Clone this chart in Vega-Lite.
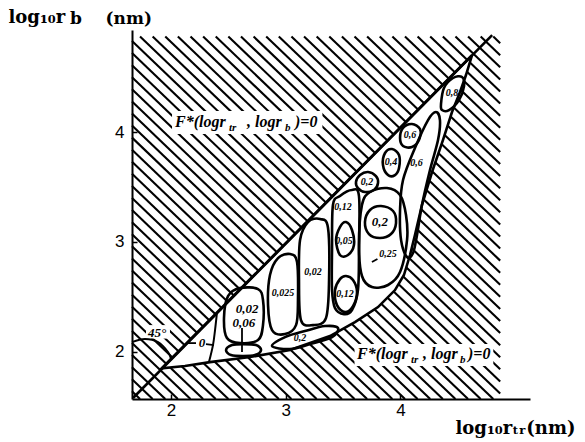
{
"$schema": "https://vega.github.io/schema/vega-lite/v6.json",
"width": 398, "height": 369,
"autosize": {"type": "none"},
"padding": {"left": 132, "top": 30, "right": 55, "bottom": 43},
"background": "white",
"config": {"view": {"stroke": null}, "axis": {"grid": false}},
"title": {"text": "b\u00a0\u00a0\u00a0\u00a0(nm)", "anchor": "start", "frame": "group", "dx": -62, "dy": 22, "offset": 2, "fontSize": 17, "font": "DejaVu Serif", "fontWeight": "bold", "color": "black"},
"datasets": {
"hatch": [
{"x":1.66,"y":1.64,"x2":1.73,"y2":1.57},{"x":1.66,"y":1.75,"x2":1.84,"y2":1.57},{"x":1.66,"y":1.86,"x2":1.95,"y2":1.57},{"x":1.66,"y":1.97,"x2":2.06,"y2":1.57},{"x":1.66,"y":2.08,"x2":2.17,"y2":1.57},{"x":1.66,"y":2.19,"x2":2.28,"y2":1.57},{"x":1.66,"y":2.30,"x2":2.39,"y2":1.57},{"x":1.66,"y":2.41,"x2":2.50,"y2":1.57},{"x":1.66,"y":2.52,"x2":2.61,"y2":1.57},{"x":1.66,"y":2.63,"x2":2.72,"y2":1.57},{"x":1.66,"y":2.74,"x2":2.83,"y2":1.57},{"x":1.66,"y":2.85,"x2":2.94,"y2":1.57},{"x":1.66,"y":2.96,"x2":3.05,"y2":1.57},{"x":1.66,"y":3.07,"x2":3.16,"y2":1.57},{"x":1.66,"y":3.18,"x2":3.27,"y2":1.57},{"x":1.66,"y":3.29,"x2":3.38,"y2":1.57},{"x":1.66,"y":3.40,"x2":3.49,"y2":1.57},{"x":1.66,"y":3.51,"x2":3.60,"y2":1.57},{"x":1.66,"y":3.62,"x2":3.71,"y2":1.57},{"x":1.66,"y":3.73,"x2":3.82,"y2":1.57},{"x":1.66,"y":3.84,"x2":3.93,"y2":1.57},{"x":1.66,"y":3.95,"x2":4.04,"y2":1.57},{"x":1.66,"y":4.06,"x2":4.15,"y2":1.57},{"x":1.66,"y":4.17,"x2":4.26,"y2":1.57},{"x":1.66,"y":4.28,"x2":4.37,"y2":1.57},{"x":1.66,"y":4.39,"x2":4.48,"y2":1.57},{"x":1.66,"y":4.50,"x2":4.59,"y2":1.57},{"x":1.66,"y":4.61,"x2":4.70,"y2":1.57},{"x":1.66,"y":4.72,"x2":4.81,"y2":1.57},
{"x":1.66,"y":4.83,"x2":4.87,"y2":1.62},
{"x":1.73,"y":4.87,"x2":4.87,"y2":1.73},{"x":1.84,"y":4.87,"x2":4.87,"y2":1.84},{"x":1.95,"y":4.87,"x2":4.87,"y2":1.95},{"x":2.06,"y":4.87,"x2":4.87,"y2":2.06},{"x":2.17,"y":4.87,"x2":4.87,"y2":2.17},{"x":2.28,"y":4.87,"x2":4.87,"y2":2.28},{"x":2.39,"y":4.87,"x2":4.87,"y2":2.39},{"x":2.50,"y":4.87,"x2":4.87,"y2":2.50},{"x":2.61,"y":4.87,"x2":4.87,"y2":2.61},{"x":2.72,"y":4.87,"x2":4.87,"y2":2.72},{"x":2.83,"y":4.87,"x2":4.87,"y2":2.83},{"x":2.94,"y":4.87,"x2":4.87,"y2":2.94},{"x":3.05,"y":4.87,"x2":4.87,"y2":3.05},{"x":3.16,"y":4.87,"x2":4.87,"y2":3.16},{"x":3.27,"y":4.87,"x2":4.87,"y2":3.27},{"x":3.38,"y":4.87,"x2":4.87,"y2":3.38},{"x":3.49,"y":4.87,"x2":4.87,"y2":3.49},{"x":3.60,"y":4.87,"x2":4.87,"y2":3.60},{"x":3.71,"y":4.87,"x2":4.87,"y2":3.71},{"x":3.82,"y":4.87,"x2":4.87,"y2":3.82},{"x":3.93,"y":4.87,"x2":4.87,"y2":3.93},{"x":4.04,"y":4.87,"x2":4.87,"y2":4.04},{"x":4.15,"y":4.87,"x2":4.87,"y2":4.15},{"x":4.26,"y":4.87,"x2":4.87,"y2":4.26},{"x":4.37,"y":4.87,"x2":4.87,"y2":4.37},{"x":4.48,"y":4.87,"x2":4.87,"y2":4.48},{"x":4.59,"y":4.87,"x2":4.87,"y2":4.59},{"x":4.70,"y":4.87,"x2":4.87,"y2":4.70},{"x":4.81,"y":4.87,"x2":4.87,"y2":4.81}
],
"boxes": [
{"x":2.009,"x2":3.32,"y":4.193,"y2":3.983},
{"x":3.60,"x2":4.81,"y":2.07,"y2":1.87},
{"x":1.782,"x2":1.991,"y":2.243,"y2":2.12}
],
"region": [
{"i":0,"x":1.92,"y":1.85},{"i":1,"x":4.624,"y":4.70},{"i":2,"x":4.572,"y":4.52},{"i":3,"x":4.52,"y":4.365},{"i":4,"x":4.45,"y":4.183},{"i":5,"x":4.371,"y":3.928},{"i":6,"x":4.276,"y":3.637},{"i":7,"x":4.188,"y":3.336},{"i":8,"x":4.127,"y":3.063},{"i":9,"x":4.084,"y":2.881},{"i":10,"x":4.031,"y":2.699},{"i":11,"x":3.953,"y":2.562},{"i":12,"x":3.805,"y":2.407},{"i":13,"x":3.604,"y":2.271},{"i":14,"x":3.386,"y":2.143},{"i":15,"x":3.038,"y":2.016},{"i":16,"x":2.689,"y":1.952},{"i":17,"x":2.34,"y":1.906},{"i":18,"x":2.122,"y":1.87}
],
"diag": [{"x":1.669,"y":1.579,"x2":4.80,"y2":4.884}],
"leaders": [
{"x":2.131,"y":2.079,"x2":2.218,"y2":2.079},{"x":2.305,"y":2.07,"x2":2.375,"y2":2.061},{"x":2.619,"y":2.216,"x2":2.619,"y2":1.998},{"x":3.752,"y":2.817,"x2":3.80,"y2":2.845}
],
"loops": [
{"g":"A","i":0,"x":2.497,"y":2.507},{"g":"A","i":1,"x":2.602,"y":2.58},{"g":"A","i":2,"x":2.759,"y":2.571},{"g":"A","i":3,"x":2.802,"y":2.471},{"g":"A","i":4,"x":2.802,"y":2.243},{"g":"A","i":5,"x":2.759,"y":2.107},{"g":"A","i":6,"x":2.602,"y":2.079},{"g":"A","i":7,"x":2.488,"y":2.125},{"g":"A","i":8,"x":2.462,"y":2.307},
{"g":"B","i":0,"x":2.48,"y":2.016},{"g":"B","i":1,"x":2.532,"y":2.061},{"g":"B","i":2,"x":2.628,"y":2.07},{"g":"B","i":3,"x":2.741,"y":2.061},{"g":"B","i":4,"x":2.785,"y":2.016},{"g":"B","i":5,"x":2.732,"y":1.97},{"g":"B","i":6,"x":2.628,"y":1.961},{"g":"B","i":7,"x":2.523,"y":1.97},
{"g":"C","i":0,"x":2.863,"y":2.699},{"g":"C","i":1,"x":2.933,"y":2.853},{"g":"C","i":2,"x":3.038,"y":2.89},{"g":"C","i":3,"x":3.099,"y":2.817},{"g":"C","i":4,"x":3.107,"y":2.471},{"g":"C","i":5,"x":3.09,"y":2.243},{"g":"C","i":6,"x":2.994,"y":2.161},{"g":"C","i":7,"x":2.881,"y":2.198},{"g":"C","i":8,"x":2.846,"y":2.425},
{"g":"D","i":0,"x":3.125,"y":3.017},{"g":"D","i":1,"x":3.194,"y":3.181},{"g":"D","i":2,"x":3.299,"y":3.209},{"g":"D","i":3,"x":3.369,"y":3.127},{"g":"D","i":4,"x":3.378,"y":2.653},{"g":"D","i":5,"x":3.351,"y":2.307},{"g":"D","i":6,"x":3.238,"y":2.243},{"g":"D","i":7,"x":3.133,"y":2.289},{"g":"D","i":8,"x":3.116,"y":2.653},
{"g":"E","i":0,"x":2.881,"y":2.052},{"g":"E","i":1,"x":2.994,"y":2.134},{"g":"E","i":2,"x":3.168,"y":2.189},{"g":"E","i":3,"x":3.343,"y":2.234},{"g":"E","i":4,"x":3.456,"y":2.216},{"g":"E","i":5,"x":3.404,"y":2.134},{"g":"E","i":6,"x":3.212,"y":2.07},{"g":"E","i":7,"x":3.038,"y":2.025},
{"g":"F","i":0,"x":3.412,"y":3.336},{"g":"F","i":1,"x":3.473,"y":3.418},{"g":"F","i":2,"x":3.578,"y":3.473},{"g":"F","i":3,"x":3.639,"y":3.418},{"g":"F","i":4,"x":3.639,"y":2.926},{"g":"F","i":5,"x":3.63,"y":2.562},{"g":"F","i":6,"x":3.578,"y":2.38},{"g":"F","i":7,"x":3.508,"y":2.343},{"g":"F","i":8,"x":3.43,"y":2.398},{"g":"F","i":9,"x":3.404,"y":2.562},{"g":"F","i":10,"x":3.404,"y":2.926},
{"g":"G","i":0,"x":3.439,"y":3.017},{"g":"G","i":1,"x":3.473,"y":3.136},{"g":"G","i":2,"x":3.526,"y":3.181},{"g":"G","i":3,"x":3.578,"y":3.109},{"g":"G","i":4,"x":3.595,"y":2.972},{"g":"G","i":5,"x":3.543,"y":2.881},{"g":"G","i":6,"x":3.473,"y":2.881},
{"g":"H","i":0,"x":3.43,"y":2.562},{"g":"H","i":1,"x":3.473,"y":2.662},{"g":"H","i":2,"x":3.526,"y":2.69},{"g":"H","i":3,"x":3.587,"y":2.653},{"g":"H","i":4,"x":3.622,"y":2.544},{"g":"H","i":5,"x":3.587,"y":2.416},{"g":"H","i":6,"x":3.517,"y":2.361},{"g":"H","i":7,"x":3.447,"y":2.425},
{"g":"I","i":0,"x":3.665,"y":3.336},{"g":"I","i":1,"x":3.735,"y":3.455},{"g":"I","i":2,"x":3.883,"y":3.491},{"g":"I","i":3,"x":3.997,"y":3.427},{"g":"I","i":4,"x":4.049,"y":3.245},{"g":"I","i":5,"x":4.058,"y":3.017},{"g":"I","i":6,"x":3.997,"y":2.726},{"g":"I","i":7,"x":3.892,"y":2.608},{"g":"I","i":8,"x":3.752,"y":2.589},{"g":"I","i":9,"x":3.665,"y":2.69},{"g":"I","i":10,"x":3.639,"y":2.972},
{"g":"J","i":0,"x":3.691,"y":3.181},{"g":"J","i":1,"x":3.735,"y":3.291},{"g":"J","i":2,"x":3.831,"y":3.327},{"g":"J","i":3,"x":3.936,"y":3.282},{"g":"J","i":4,"x":3.962,"y":3.172},{"g":"J","i":5,"x":3.918,"y":3.072},{"g":"J","i":6,"x":3.822,"y":3.036},{"g":"J","i":7,"x":3.726,"y":3.072},
{"g":"K","i":0,"x":4.058,"y":2.863},{"g":"K","i":1,"x":4.006,"y":3.017},{"g":"K","i":2,"x":3.997,"y":3.291},{"g":"K","i":3,"x":4.023,"y":3.564},{"g":"K","i":4,"x":4.127,"y":3.855},{"g":"K","i":5,"x":4.241,"y":4.11},{"g":"K","i":6,"x":4.31,"y":4.183},{"g":"K","i":7,"x":4.345,"y":4.11},{"g":"K","i":8,"x":4.328,"y":3.928},{"g":"K","i":9,"x":4.258,"y":3.655},{"g":"K","i":10,"x":4.188,"y":3.336},{"g":"K","i":11,"x":4.145,"y":3.063},{"g":"K","i":12,"x":4.11,"y":2.899},
{"g":"L","i":0,"x":3.613,"y":3.546},{"g":"L","i":1,"x":3.648,"y":3.609},{"g":"L","i":2,"x":3.718,"y":3.637},{"g":"L","i":3,"x":3.787,"y":3.6},{"g":"L","i":4,"x":3.805,"y":3.537},{"g":"L","i":5,"x":3.77,"y":3.473},{"g":"L","i":6,"x":3.691,"y":3.455},{"g":"L","i":7,"x":3.63,"y":3.491},
{"g":"M","i":0,"x":3.848,"y":3.701},{"g":"M","i":1,"x":3.866,"y":3.81},{"g":"M","i":2,"x":3.927,"y":3.846},{"g":"M","i":3,"x":3.988,"y":3.792},{"g":"M","i":4,"x":3.988,"y":3.673},{"g":"M","i":5,"x":3.953,"y":3.609},{"g":"M","i":6,"x":3.892,"y":3.609},
{"g":"N","i":0,"x":3.997,"y":3.946},{"g":"N","i":1,"x":4.023,"y":4.038},{"g":"N","i":2,"x":4.101,"y":4.074},{"g":"N","i":3,"x":4.171,"y":4.028},{"g":"N","i":4,"x":4.162,"y":3.928},{"g":"N","i":5,"x":4.101,"y":3.864},{"g":"N","i":6,"x":4.023,"y":3.873},
{"g":"O","i":0,"x":4.354,"y":4.256},{"g":"O","i":1,"x":4.38,"y":4.402},{"g":"O","i":2,"x":4.459,"y":4.493},{"g":"O","i":3,"x":4.537,"y":4.502},{"g":"O","i":4,"x":4.555,"y":4.42},{"g":"O","i":5,"x":4.511,"y":4.292},{"g":"O","i":6,"x":4.424,"y":4.201},{"g":"O","i":7,"x":4.363,"y":4.201}
],
"curves": [
{"g":"arc","i":0,"x":1.66,"y":2.088},{"g":"arc","i":1,"x":1.773,"y":2.116},{"g":"arc","i":2,"x":1.887,"y":2.088},{"g":"arc","i":3,"x":1.974,"y":1.998},{"g":"arc","i":4,"x":2.0,"y":1.935},
{"g":"tip","i":0,"x":2.40,"y":2.35},{"g":"tip","i":1,"x":2.384,"y":2.198},{"g":"tip","i":2,"x":2.366,"y":2.061},{"g":"tip","i":3,"x":2.331,"y":1.906}
],
"big": [
{"x":2.035,"y":4.092,"t":"F*(logr"},{"x":2.663,"y":4.092,"t":", logr"},{"x":3.081,"y":4.092,"t":")=0"},
{"x":3.622,"y":1.979,"t":"F*(logr"},{"x":4.197,"y":1.979,"t":", logr"},{"x":4.589,"y":1.979,"t":")=0"}
],
"bigsub": [
{"x":2.505,"y":4.037,"t":"tr"},{"x":2.994,"y":4.037,"t":"b"},
{"x":4.092,"y":1.925,"t":"tr"},{"x":4.52,"y":1.925,"t":"b"}
],
"mid": [
{"x":2.663,"y":2.389,"t":"0,02"},{"x":2.636,"y":2.262,"t":"0,06"},{"x":3.822,"y":3.181,"t":"0,2"},{"x":2.27,"y":2.079,"t":"0"},{"x":1.878,"y":2.17,"t":"45°"}
],
"small": [
{"x":2.976,"y":2.535,"t":"0,025"},{"x":3.238,"y":2.726,"t":"0,02"},{"x":3.125,"y":2.125,"t":"0,2"},{"x":3.5,"y":3.318,"t":"0,12"},{"x":3.508,"y":3.008,"t":"0,05"},{"x":3.517,"y":2.526,"t":"0,12"},{"x":3.892,"y":2.89,"t":"0,25"},{"x":3.709,"y":3.546,"t":"0,2"},{"x":3.918,"y":3.728,"t":"0,4"},{"x":4.084,"y":3.974,"t":"0,6"},{"x":4.45,"y":4.356,"t":"0,8"},{"x":4.14,"y":3.719,"t":"0,6"}
]
},
"encoding": {
"x": {"field": "x", "type": "quantitative", "scale": {"domain": [1.66, 5.13], "nice": false, "zero": false},
 "axis": {"values": [2, 3, 4], "title": "log₁₀rₜᵣ(nm)", "titleX": 323, "titleY": 34, "titleAlign": "left", "titleBaseline": "alphabetic", "titleFont": "DejaVu Serif", "titleFontWeight": "bold", "titleFontSize": 18, "titleColor": "black",
  "labelFont": "Liberation Sans", "labelFontSize": 17, "labelColor": "black", "domainColor": "black", "domainWidth": 2, "tickColor": "black", "tickWidth": 1.5, "tickSize": -5, "labelPadding": 8, "zindex": 1}},
"y": {"field": "y", "type": "quantitative", "scale": {"domain": [1.57, 4.93], "nice": false, "zero": false},
 "axis": {"values": [2, 3, 4], "title": "log₁₀r", "titleX": -124, "titleY": -8, "titleAngle": 0, "titleAlign": "left", "titleBaseline": "alphabetic", "titleFont": "DejaVu Serif", "titleFontWeight": "bold", "titleFontSize": 18, "titleColor": "black",
  "labelFont": "Liberation Sans", "labelFontSize": 17, "labelColor": "black", "domainColor": "black", "domainWidth": 2, "tickColor": "black", "tickWidth": 1.5, "tickSize": -5, "labelPadding": 13, "zindex": 1}}
},
"layer": [
{"data": {"name": "hatch"}, "mark": {"type": "rule", "color": "black", "strokeWidth": 2.1},
 "encoding": {"x2": {"field": "x2"}, "y2": {"field": "y2"}}},
{"data": {"name": "boxes"}, "mark": {"type": "rect", "fill": "white", "strokeWidth": 0},
 "encoding": {"x2": {"field": "x2"}, "y2": {"field": "y2"}}},
{"data": {"name": "region"}, "mark": {"type": "line", "interpolate": "linear-closed", "fill": "white", "stroke": "black", "strokeWidth": 2.6},
 "encoding": {"order": {"field": "i", "type": "quantitative"}}},
{"data": {"name": "diag"}, "mark": {"type": "rule", "color": "black", "strokeWidth": 2.6},
 "encoding": {"x2": {"field": "x2"}, "y2": {"field": "y2"}}},
{"data": {"name": "leaders"}, "mark": {"type": "rule", "color": "black", "strokeWidth": 1.8},
 "encoding": {"x2": {"field": "x2"}, "y2": {"field": "y2"}}},
{"data": {"name": "loops"}, "mark": {"type": "line", "interpolate": "cardinal-closed", "color": "black", "strokeWidth": 2.6},
 "encoding": {"detail": {"field": "g"}, "order": {"field": "i", "type": "quantitative"}}},
{"data": {"name": "curves"}, "mark": {"type": "line", "interpolate": "cardinal", "color": "black", "strokeWidth": 2},
 "encoding": {"detail": {"field": "g"}, "order": {"field": "i", "type": "quantitative"}}},
{"data": {"name": "big"}, "mark": {"type": "text", "align": "left", "baseline": "middle", "font": "Liberation Serif", "fontStyle": "italic", "fontWeight": "bold", "fontSize": 16, "color": "black"},
 "encoding": {"text": {"field": "t"}}},
{"data": {"name": "bigsub"}, "mark": {"type": "text", "align": "left", "baseline": "middle", "font": "Liberation Serif", "fontStyle": "italic", "fontWeight": "bold", "fontSize": 11, "color": "black"},
 "encoding": {"text": {"field": "t"}}},
{"data": {"name": "mid"}, "mark": {"type": "text", "align": "center", "baseline": "middle", "font": "Liberation Serif", "fontStyle": "italic", "fontWeight": "bold", "fontSize": 13, "color": "black"},
 "encoding": {"text": {"field": "t"}}},
{"data": {"name": "small"}, "mark": {"type": "text", "align": "center", "baseline": "middle", "font": "Liberation Serif", "fontStyle": "italic", "fontWeight": "bold", "fontSize": 10, "color": "black"},
 "encoding": {"text": {"field": "t"}}}
]
}
